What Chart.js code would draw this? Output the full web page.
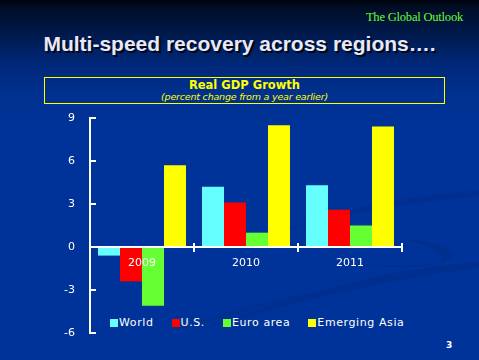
<!DOCTYPE html>
<html><head><meta charset="utf-8">
<script src="https://cdn.jsdelivr.net/npm/chart.js@4/dist/chart.umd.min.js"></script>
<style>
html,body{margin:0;padding:0;}
body{width:479px;height:360px;overflow:hidden;position:relative;
background:linear-gradient(to bottom,#00040c 0px,#000d26 8px,#001a4d 35px,#00287a 65px,#00318f 95px,#003399 130px,#003399 360px);
font-family:"DejaVu Sans",sans-serif;}
#deco{position:absolute;left:0;top:0;}
#brand{position:absolute;right:16px;top:10px;font-family:"Liberation Serif","Times New Roman",serif;font-size:12.5px;color:#66ff33;letter-spacing:-0.2px;}
#title{position:absolute;left:0;width:479px;top:32px;text-align:center;font-family:"Liberation Sans",Arial,sans-serif;font-weight:bold;font-size:21px;color:#e8e8f8;text-shadow:2px 2px 0 #000814;}
#box{position:absolute;left:44px;top:77px;width:399px;height:25px;border:1.5px solid #ffff00;text-align:center;color:#ffff00;}
#box .t{font-family:"DejaVu Sans",sans-serif;font-weight:bold;font-size:11.5px;line-height:12px;margin-top:1px;}
#box .s{font-family:"DejaVu Sans",sans-serif;font-style:italic;font-size:9.5px;line-height:11px;letter-spacing:-0.2px;}
#legend{position:absolute;left:110px;top:316px;display:flex;gap:18px;color:#fff;font-size:11px;line-height:14px;letter-spacing:0.6px;}
#legend .it{display:flex;align-items:center;}
#legend .sw{width:8px;height:8px;margin-right:1px;}
#page{position:absolute;left:446px;top:340px;color:#fff;font-weight:bold;font-size:9px;font-family:"DejaVu Sans",sans-serif;}
#c{position:absolute;left:0;top:0;}
</style></head>
<body>
<svg id="deco" width="479" height="360">
  <path d="M 280 232 Q 360 200 479 190 L 479 196 Q 370 206 280 232 Z" fill="#002f8f"/>
  <path d="M 200 330 Q 360 270 479 262 L 479 268 Q 370 280 200 330 Z" fill="#002f8f"/>
  <path d="M 330 262 Q 440 270 452 258 Q 460 245 400 238 Q 450 250 440 262 Q 420 272 330 262 Z" fill="#002f8f"/>
  <path d="M 130 345 Q 250 300 330 290 Q 260 305 130 345 Z" fill="#00318f"/>
</svg>
<div id="brand">The Global Outlook</div>
<div id="title">Multi-speed recovery across regions….</div>
<div id="box"><div class="t">Real GDP Growth</div><div class="s">(percent change from  a year earlier)</div></div>
<div id="legend"></div>
<div id="page">3</div>
<canvas id="c" width="479" height="360"></canvas>
<script>
const categories = ["2009", "2010", "2011"];
const seriesNames = ["World", "U.S.", "Euro area", "Emerging Asia"];
const world = [-0.6, 4.2, 4.3];
const us = [-2.4, 3.1, 2.6];
const euroArea = [-4.1, 1.0, 1.5];
const emergingAsia = [5.7, 8.5, 8.4];
const yTicks = [-6, -3, 0, 3, 6, 9];
const colors = ["#66ffff", "#ff0000", "#66ff33", "#ffff00"];

const seriesData = [world, us, euroArea, emergingAsia];

const lg = document.getElementById('legend');
seriesNames.forEach((n, i) => {
  const it = document.createElement('div'); it.className = 'it';
  const sw = document.createElement('span'); sw.className = 'sw'; sw.style.background = colors[i];
  const tx = document.createElement('span'); tx.textContent = n;
  it.appendChild(sw); it.appendChild(tx); lg.appendChild(it);
});

const axisPlugin = {
  id: 'axisPlugin',
  afterDatasetsDraw(chart) {
    const ctx = chart.ctx, x = chart.scales.x, y = chart.scales.y;
    const a = chart.chartArea;
    const y0 = y.getPixelForValue(0);
    ctx.save();
    ctx.strokeStyle = '#ffffff'; ctx.lineWidth = 2;
    ctx.beginPath(); ctx.moveTo(a.left, y.getPixelForValue(yTicks[yTicks.length-1]) - 1);
    ctx.lineTo(a.left, y.getPixelForValue(yTicks[0]) + 1); ctx.stroke();
    yTicks.forEach(v => {
      const p = y.getPixelForValue(v);
      ctx.beginPath(); ctx.moveTo(a.left, p); ctx.lineTo(a.left + 6, p); ctx.stroke();
    });
    ctx.beginPath(); ctx.moveTo(a.left, y0); ctx.lineTo(a.right, y0); ctx.stroke();
    for (let i = 0; i < categories.length; i++) {
      const bx = i < categories.length - 1
        ? (x.getPixelForValue(i) + x.getPixelForValue(i + 1)) / 2
        : a.right;
      ctx.beginPath(); ctx.moveTo(bx, y0 - 4); ctx.lineTo(bx, y0 + 5); ctx.stroke();
    }
    ctx.restore();
  }
};

new Chart(document.getElementById('c'), {
  type: 'bar',
  data: {
    labels: categories,
    datasets: seriesNames.map((n, i) => ({
      label: n, data: seriesData[i], backgroundColor: colors[i], borderWidth: 0,
      categoryPercentage: 0.846, barPercentage: 1.0
    }))
  },
  options: {
    responsive: false, animation: false,
    layout: { padding: { left: 0, top: 118, right: 77, bottom: 27 } },
    plugins: { legend: { display: false }, tooltip: { enabled: false } },
    scales: {
      x: {
        position: { y: 0 },
        grid: { display: false, drawTicks: false },
        border: { display: false },
        ticks: { z: 1, color: '#ffffff', font: { family: 'DejaVu Sans', size: 11 }, padding: 10, maxRotation: 0 }
      },
      y: {
        min: -6, max: 9,
        afterFit(s) { s.width = 90; },
        afterBuildTicks(s) { s.ticks = yTicks.map(v => ({ value: v })); },
        grid: { display: false, drawTicks: false },
        border: { display: false },
        ticks: { color: '#ffffff', font: { family: 'DejaVu Sans', size: 11 }, padding: 15 }
      }
    }
  },
  plugins: [axisPlugin]
});
</script>
</body></html>
